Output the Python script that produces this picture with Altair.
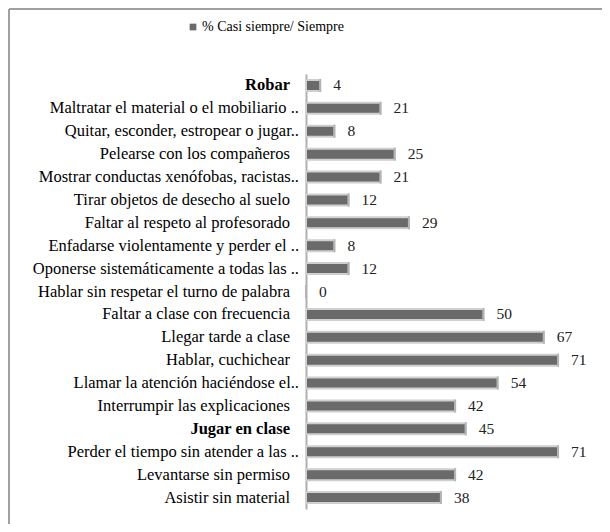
import altair as alt
import pandas as pd

categories = [
    "Robar",
    "Maltratar el material o el mobiliario ..",
    "Quitar, esconder, estropear o jugar..",
    "Pelearse con los compañeros",
    "Mostrar conductas xenófobas, racistas..",
    "Tirar objetos de desecho al suelo",
    "Faltar al respeto al profesorado",
    "Enfadarse violentamente y perder el ..",
    "Oponerse sistemáticamente a todas las ..",
    "Hablar sin respetar el turno de palabra",
    "Faltar a clase con frecuencia",
    "Llegar tarde a clase",
    "Hablar, cuchichear",
    "Llamar la atención haciéndose el..",
    "Interrumpir las explicaciones",
    "Jugar en clase",
    "Perder el tiempo sin atender a las ..",
    "Levantarse sin permiso",
    "Asistir sin material",
]
values = [4, 21, 8, 25, 21, 12, 29, 8, 12, 0, 50, 67, 71, 54, 42, 45, 71, 42, 38]
bold_labels = ["Robar", "Jugar en clase"]
series_name = "% Casi siempre/ Siempre"

df = pd.DataFrame({"cat": categories, "val": values, "serie": series_name})

FONT = "Liberation Serif, Times New Roman, serif"

y_enc = alt.Y(
    "cat:N",
    sort=categories,
    title=None,
    scale=alt.Scale(paddingInner=0.42, paddingOuter=0.21),
    axis=alt.Axis(
        domainColor="#b0b0b0",
        domainWidth=2,
        ticks=False,
        labels=False,
    ),
)
y_plain = alt.Y("cat:N", sort=categories)
x_enc = alt.X(
    "val:Q",
    title=None,
    scale=alt.Scale(domain=[0, 80], nice=False),
    axis=None,
)

base = alt.Chart(df)

bars = base.mark_bar(
    color="#6a6a6a", stroke="#cfcfcf", strokeWidth=2, size=11
).encode(
    x=x_enc,
    y=y_enc,
    color=alt.Color(
        "serie:N",
        scale=alt.Scale(range=["#6a6a6a"]),
        legend=alt.Legend(
            title=None,
            orient="none",
            legendX=-120,
            legendY=-54,
            symbolType="square",
            symbolSize=45,
            symbolStrokeWidth=0,
            labelFont=FONT,
            labelFontSize=14,
            labelOffset=2,
            labelColor="#000000",
        ),
    ),
)

caps = base.mark_tick(color="#a8a8a8", thickness=2, size=13).encode(
    x="val:Q", y=y_plain
)

labels = base.mark_text(
    align="left", baseline="middle", dx=13, font=FONT, fontSize=15.5, color="#222222"
).encode(x="val:Q", y=y_plain, text="val:Q")

bold_list = "[" + ",".join("'" + b + "'" for b in bold_labels) + "]"

cat_trunc = base.transform_filter("indexof(datum.cat, '..') >= 0").mark_text(
    align="right", baseline="middle", font=FONT, fontSize=16.5, color="#000000"
).encode(x=alt.value(-7), y=y_plain, text="cat:N")

cat_full = base.transform_filter(
    f"indexof(datum.cat, '..') < 0 && indexof({bold_list}, datum.cat) < 0"
).mark_text(
    align="right", baseline="middle", font=FONT, fontSize=16.5, color="#000000"
).encode(x=alt.value(-16), y=y_plain, text="cat:N")

cat_bold = base.transform_filter(
    f"indexof({bold_list}, datum.cat) >= 0"
).mark_text(
    align="right", baseline="middle", font=FONT, fontSize=16.5, fontWeight="bold",
    color="#000000"
).encode(x=alt.value(-16), y=y_plain, text="cat:N")

border_top = alt.Chart(pd.DataFrame({"k": [0]})).mark_rule(
    color="#a0a0a0", strokeWidth=2
).encode(x=alt.value(-297), x2=alt.value(300), y=alt.value(-65))

border_left = alt.Chart(pd.DataFrame({"k": [0]})).mark_rule(
    color="#a0a0a0", strokeWidth=2
).encode(x=alt.value(-297), y=alt.value(-65), y2=alt.value(460))

chart = (
    alt.layer(bars, caps, labels, cat_trunc, cat_full, cat_bold, border_top, border_left)
    .properties(
        width=284,
        height=435,
        autosize=alt.AutoSizeParams(type="none"),
        padding={"left": 298, "top": 66, "right": 12, "bottom": 15},
    )
    .configure_view(stroke=None)
)

chart.save("out.html", embed_options={"renderer": "svg", "actions": False})
